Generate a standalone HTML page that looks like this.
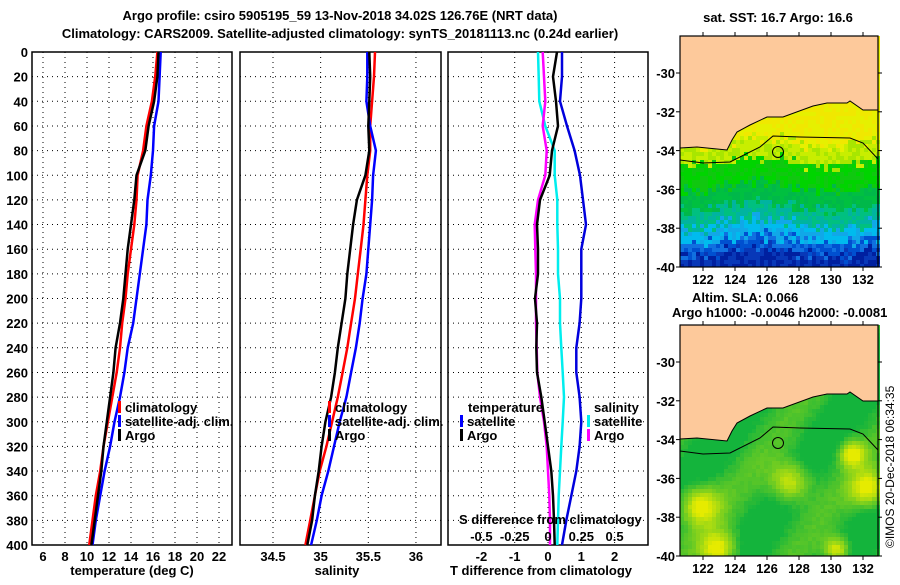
<!DOCTYPE html>
<html><head><meta charset="utf-8"><style>
html,body{margin:0;padding:0;background:#fff;overflow:hidden;}
svg text{font-family:"Liberation Sans",sans-serif;font-weight:bold;font-size:13px;fill:#000;}
</style></head><body>
<svg id="fig" width="900" height="580" viewBox="0 0 900 580" xmlns="http://www.w3.org/2000/svg">
<text x="340" y="20" text-anchor="middle">Argo profile: csiro 5905195_59 13-Nov-2018 34.02S 126.76E (NRT data)</text>
<text x="340" y="38" text-anchor="middle">Climatology: CARS2009. Satellite-adjusted climatology: synTS_20181113.nc (0.24d earlier)</text>
<g id="maps"></g>
<g id="panels"></g>
<text x="778" y="22" text-anchor="middle">sat. SST: 16.7 Argo: 16.6</text>
<text x="692" y="302">Altim. SLA: 0.066</text>
<text x="672" y="317">Argo h1000: -0.0046 h2000: -0.0081</text>
<text transform="translate(894,548) rotate(-90)" style="font-size:12px;font-weight:normal">©IMOS 20-Dec-2018 06:34:35</text>
</svg>
<script>
// ---- data ----
const depths = [0,20,40,60,80,100,120,140,160,180,200,220,240,260,280,300,320,340,360,380,400];
const tempArgo = [16.5,16.4,16.1,15.6,15.3,14.5,14.3,14.0,13.7,13.5,13.3,13.0,12.6,12.4,12.1,11.8,11.5,11.3,11.0,10.7,10.4];
const tempClim = [16.4,16.2,15.9,15.4,15.1,14.6,14.5,14.3,14.0,13.7,13.5,13.2,13.0,12.7,12.3,11.9,11.5,11.2,10.8,10.5,10.2];
const tempSat = [16.7,16.6,16.5,16.1,16.0,15.8,15.5,15.4,15.1,14.8,14.5,14.2,13.7,13.4,13.0,12.5,12.1,11.6,11.2,10.8,10.5];
const salArgo = [35.51,35.52,35.51,35.50,35.51,35.47,35.38,35.34,35.31,35.28,35.26,35.22,35.18,35.15,35.11,35.05,35.01,34.98,34.94,34.91,34.86];
const salClim = [35.57,35.56,35.54,35.52,35.52,35.49,35.47,35.45,35.42,35.39,35.36,35.32,35.28,35.23,35.18,35.12,35.06,34.99,34.94,34.89,34.84];
const salSat = [35.49,35.49,35.48,35.52,35.58,35.55,35.54,35.52,35.50,35.48,35.44,35.41,35.37,35.32,35.27,35.20,35.14,35.08,35.01,34.96,34.90];
const tDiffSat = [0.42,0.42,0.36,0.57,0.8,0.96,1.05,1.14,1.0,1.0,1.0,0.95,0.85,0.85,0.95,1.0,0.95,0.85,0.7,0.55,0.42];
const tDiffArgo = [0.27,0.15,0.24,0.3,0.12,0.05,-0.24,-0.33,-0.3,-0.3,-0.39,-0.33,-0.35,-0.33,-0.2,-0.1,0.0,0.1,0.15,0.18,0.2];
const sDiffSat = [-0.075,-0.07,-0.065,-0.02,0.05,0.05,0.07,0.07,0.075,0.075,0.09,0.09,0.1,0.11,0.12,0.11,0.1,0.09,0.08,0.075,0.07];
const sDiffArgo = [-0.04,-0.03,-0.02,-0.04,-0.01,-0.02,-0.075,-0.1,-0.095,-0.09,-0.09,-0.09,-0.085,-0.08,-0.06,-0.03,-0.01,0.0,0.01,0.015,0.015];
const depthTicks = [0,20,40,60,80,100,120,140,160,180,200,220,240,260,280,300,320,340,360,380,400];
const tempTicks = [6,8,10,12,14,16,18,20,22];
const salTicks = [34.5,35,35.5,36];
const tdTicks = [-2,-1,0,1,2];
const sdTicks = [-0.5,-0.25,0,0.25,0.5];
const sdTickLabels = ["-0.5","-0.25","0","0.25","0.5"];
const latTicks = [-30,-32,-34,-36,-38,-40];
const lonTicks = [122,124,126,128,130,132];

const NS="http://www.w3.org/2000/svg";
const P=document.getElementById('panels');
function el(tag,attrs,parent){const e=document.createElementNS(NS,tag);for(const k in attrs)e.setAttribute(k,attrs[k]);(parent||P).appendChild(e);return e;}
const Y0=52,Y1=545;
const yD=d=>Y0+d*(Y1-Y0)/400;
const xT=t=>43+(t-6)*11;
const xS=s=>273+(s-34.5)*95.3;
const xTD=t=>548+t*33.3;
const xSD=s=>548+s*133.2;

function panel(name,x0,x1,ticks,xf,labels,withY){
  const g=el('g',{});
  
  
  depthTicks.forEach(d=>{
    if(d>0&&d<400) el('line',{x1:x0,x2:x1,y1:yD(d),y2:yD(d),stroke:'#000','stroke-width':1,'stroke-dasharray':'1,4'},g);
    if(withY){const t=el('text',{x:x0-4,y:yD(d)+5,'text-anchor':'end'},g);t.textContent=d;
      
      }
  });
  ticks.forEach((v,i)=>{
    const x=xf(v);
    el('line',{x1:x,x2:x,y1:Y0,y2:Y1,stroke:'#000','stroke-width':1,'stroke-dasharray':'1,4'},g);
    if(labels){const t=el('text',{x:x,y:561,'text-anchor':'middle'},g);t.textContent=labels[i];
      
      }
  });
  el('rect',{x:x0,y:Y0,width:x1-x0,height:Y1-Y0,fill:'none',stroke:'#000','stroke-width':1.5},g);
  return g;
}
function line(g,xs,f,color,name){
  const pts=depths.map((d,i)=>f(xs[i]).toFixed(1)+','+yD(d).toFixed(1)).join(' ');
  const p=el('polyline',{points:pts,fill:'none',stroke:color,'stroke-width':2.5},g);
  
  
}
function txt(g,x,y,s,name,anchor){const t=el('text',{x:x,y:y,'text-anchor':anchor||'start'},g);t.textContent=s;
  
  return t;}
function bar(g,x,y,c){el('rect',{x:x,y:y,width:3,height:12,fill:c},g);}

// Panel 1
const g1=panel('temperature-panel',32,232,tempTicks,xT,tempTicks.map(String),true);
line(g1,tempClim,xT,'#ff0000','temperature-climatology-line');
line(g1,tempSat,xT,'#0000ff','temperature-satellite-line');
line(g1,tempArgo,xT,'#000','temperature-argo-line');
txt(g1,132,575,'temperature (deg C)','x-axis-title','middle');
bar(g1,118,401,'#f00');bar(g1,118,415,'#00f');bar(g1,118,429,'#000');
txt(g1,125,412,'climatology','legend-climatology');
txt(g1,125,426,'satellite-adj. clim.','legend-satellite');
txt(g1,125,440,'Argo','legend-argo');

// Panel 2
const g2=panel('salinity-panel',240,441,salTicks,xS,['34.5','35','35.5','36'],false);
line(g2,salClim,xS,'#ff0000','salinity-climatology-line');
line(g2,salSat,xS,'#0000ff','salinity-satellite-line');
line(g2,salArgo,xS,'#000','salinity-argo-line');
txt(g2,337,575,'salinity','x-axis-title','middle');
bar(g2,328,401,'#f00');bar(g2,328,415,'#00f');bar(g2,328,429,'#000');
txt(g2,335,412,'climatology','legend-climatology');
txt(g2,335,426,'satellite-adj. clim.','legend-satellite');
txt(g2,335,440,'Argo','legend-argo');

// Panel 3
const g3=panel('difference-panel',448,648,tdTicks,xTD,tdTicks.map(String),false);
line(g3,sDiffSat,xSD,'#00eeee','salinity-diff-satellite-line');
line(g3,sDiffArgo,xSD,'#ff00ff','salinity-diff-argo-line');
line(g3,tDiffSat,xTD,'#0000dd','temperature-diff-satellite-line');
line(g3,tDiffArgo,xTD,'#000','temperature-diff-argo-line');
txt(g3,468,412,'temperature','legend-temperature-heading');
bar(g3,460,415,'#00f');bar(g3,460,429,'#000');
txt(g3,467,426,'satellite','legend-temp-satellite');
txt(g3,467,440,'Argo','legend-temp-argo');
txt(g3,594,412,'salinity','legend-salinity-heading');
bar(g3,587,415,'#0ee');bar(g3,587,429,'#f0f');
txt(g3,594,426,'satellite','legend-sal-satellite');
txt(g3,594,440,'Argo','legend-sal-argo');
txt(g3,459,524,'S difference from climatology','s-diff-axis-title');
sdTicks.forEach((v,i)=>{txt(g3,xSD(v),541,sdTickLabels[i],'s-diff-tick-label','middle');});
txt(g3,541,575,'T difference from climatology','x-axis-title','middle');

// ---- maps ----
const M=document.getElementById('maps');
function hash(i,j){let h=(i*374761393+j*668265263)|0;h=(h^(h>>>13))*1274126177|0;return ((h^(h>>>16))>>>0)/4294967296;}
const coast=[[680,148],[697,147],[727,150],[732,140],[737,132],[750,125],[767,117],[783,117],[813,106],[827,103],[847,103],[850,101],[863,110],[878,110]];
const contour=[[680,160],[703,163],[730,162],[760,147],[773,136],[800,137],[850,138],[863,143],[878,159]];
function mapFrame(name,top,bot,latY,colorFn,off){
  const g=document.createElementNS(NS,'g');M.appendChild(g);
  
  
  let cells='';
  for(let y=top,j=0;y<bot;y+=4,j++)for(let x=680,i=0;x<878;x+=4,i++){
    const h=Math.min(4,bot-y);
    cells+=`<rect x="${x}" y="${y}" width="4" height="${h}" fill="${colorFn(x,y-off,i,j)}"/>`;
  }
  const cg=el('g',{},g);cg.innerHTML=cells;
  const land='680,'+top+' '+coast.map(p=>p[0]+','+(p[1]+off)).join(' ')+' 878,'+top;
  el('polygon',{points:land,fill:'#fdc99b'},g);
  el('polyline',{points:coast.map(p=>p[0]+','+(p[1]+off)).join(' '),fill:'none',stroke:'#000','stroke-width':1},g);
  el('polyline',{points:contour.map(p=>p[0]+','+(p[1]+off)).join(' '),fill:'none',stroke:'#000','stroke-width':1},g);
  el('circle',{cx:778,cy:152+off,r:5.5,fill:'none',stroke:'#000','stroke-width':1},g);
  el('rect',{x:680,y:top,width:198,height:bot-top,fill:'none',stroke:'#000','stroke-width':1.2},g);
  latTicks.forEach(l=>{const y=latY(l);
    el('line',{x1:680,x2:676,y1:y,y2:y,stroke:'#000'},g);el('line',{x1:878,x2:882,y1:y,y2:y,stroke:'#000'},g);
    const t=el('text',{x:675,y:y+5,'text-anchor':'end'},g);t.textContent=l;
    
    });
  lonTicks.forEach(l=>{const x=703+(l-122)*16;
    el('line',{x1:x,x2:x,y1:bot,y2:bot+4,stroke:'#000'},g);el('line',{x1:x,x2:x,y1:top,y2:top-4,stroke:'#000'},g);
    const t=el('text',{x:x,y:bot+17,'text-anchor':'middle'},g);t.textContent=l;
    
    });
}
function sstColor(x,y,i,j){
  const n=hash(i,j)*14-7+Math.sin(x/23)*5;
  const v=y+n;
  if(v<140)return hash(i,j+99)>0.5?'#e6f000':'#f0e800';
  if(v<160)return hash(i,j+7)>0.5?'#c8ee00':'#a8e600';
  if(v<185)return hash(i,j+3)>0.5?'#00d400':'#10c810';
  if(v<205)return hash(i,j+5)>0.5?'#00c040':'#00b84a';
  if(v<222)return hash(i,j+9)>0.5?'#00c080':'#00b4a0';
  if(v<238)return hash(i,j+2)>0.5?'#00bbee':'#10a8e8';
  if(v<250)return hash(i,j+4)>0.5?'#1070e0':'#0050d0';
  return hash(i,j+6)>0.5?'#0020a0':'#0838b8';
}
const blobs=[[788,480,14],[867,487,13],[697,503,14],[717,548,13],[850,452,9],[835,548,9],[700,345,10],[855,370,10]];
function slaColor(x,y0,i,j){
  const y=y0+291;
  let v=0;blobs.forEach(b=>{const d=((x-b[0])**2+(y-b[1])**2)/(b[2]*b[2]);v+=Math.exp(-d/2);});
  v+=0.25*Math.sin(x/17+y/23)+0.1*hash(i,j);
  v=Math.max(0,Math.min(1,v));
  const r=Math.round(20+v*210),gg=Math.round(180+v*55),bb=Math.round(60-v*60);
  return `rgb(${r},${gg},${bb})`;
}
mapFrame('sst-map',36,267,l=>267-(l+40)*19.4,sstColor,0);
mapFrame('sla-map',325,556,l=>556-(l+40)*19.4,slaColor,291);
</script>
</body></html>
